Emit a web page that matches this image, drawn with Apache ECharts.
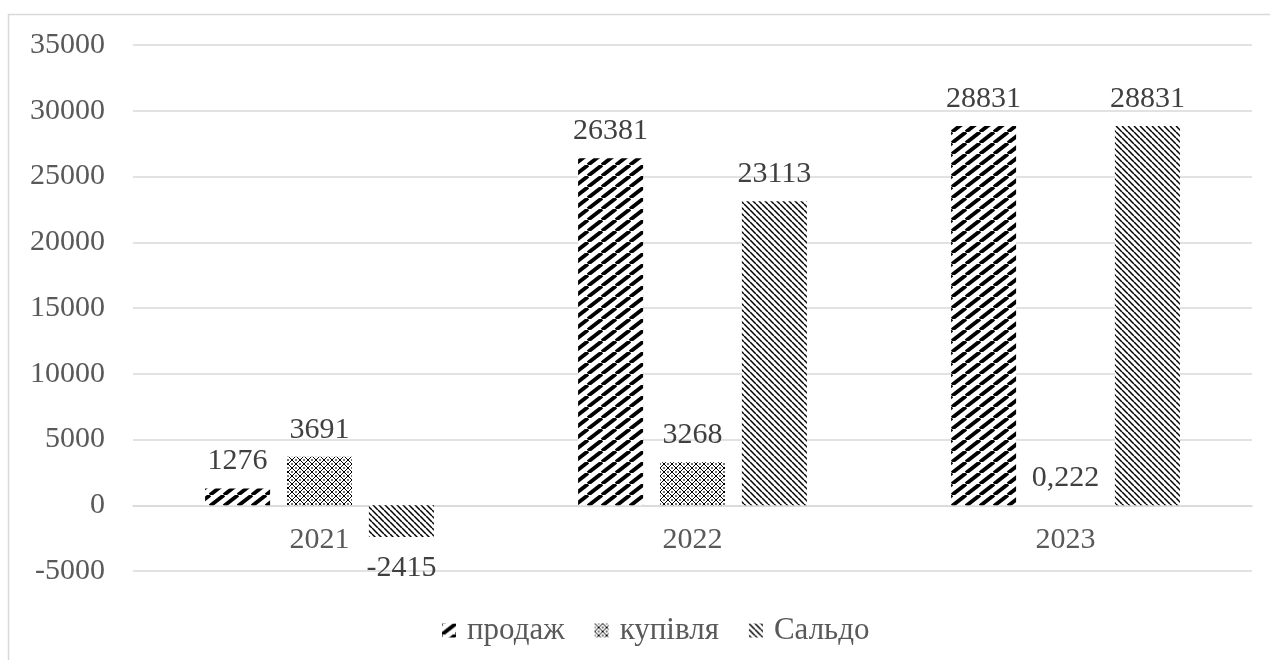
<!DOCTYPE html>
<html>
<head>
<meta charset="utf-8">
<script src="https://cdn.jsdelivr.net/npm/echarts@6/dist/echarts.min.js"></script>
<style>
  html, body { margin: 0; padding: 0; background: #fff; }
  #chart { width: 1270px; height: 660px; }
</style>
</head>
<body>
<div id="chart"></div>
<script>
// Years on the category axis
const years = ['2021', '2022', '2023'];
// Series values
const sales = [1276, 26381, 28831];       // продаж
const purchases = [3691, 3268, 0.222];    // купівля
const balance = [-2415, 23113, 28831];    // Сальдо
const seriesNames = ['продаж', 'купівля', 'Сальдо'];
// Value axis range
const yMin = -5000, yMax = 35000, yStep = 5000;

const FONT = '"Liberation Serif", "Times New Roman", serif';

const GRID_TOP = 45, GRID_BOTTOM = 89, CHART_H = 660;

// Hatch fills
function tile(w, h, draw) {
  const c = document.createElement('canvas');
  c.width = w; c.height = h;
  const ctx = c.getContext('2d');
  ctx.fillStyle = '#fff';
  ctx.fillRect(0, 0, w, h);
  draw(ctx, w, h);
  return { image: c, repeat: 'repeat' };
}

// wide upward diagonal stripes
const widePattern = tile(14, 11, (ctx, w, h) => {
  ctx.strokeStyle = '#000';
  ctx.lineWidth = 3.8;
  for (const k of [-w, 0, w]) {
    ctx.beginPath();
    ctx.moveTo(k, h);
    ctx.lineTo(k + w, 0);
    ctx.stroke();
  }
});

// small diamond mesh
const meshPattern = tile(8, 8, (ctx, w, h) => {
  ctx.fillStyle = '#000';
  for (let i = 0; i < 8; i++) {
    ctx.fillRect(i, i, 1, 1);
    ctx.fillRect(7 - i, i, 1, 1);
  }
  ctx.fillStyle = '#777';
  ctx.fillRect(3, 0, 2, 1);
  ctx.fillRect(3, 7, 2, 1);
  ctx.fillRect(0, 3, 1, 2);
  ctx.fillRect(7, 3, 1, 2);
});

// thin downward diagonal stripes
const thinPattern = tile(6, 6, (ctx, w, h) => {
  ctx.strokeStyle = '#000';
  ctx.lineWidth = 1.5;
  for (const k of [-w, 0, w]) {
    ctx.beginPath();
    ctx.moveTo(k, 0);
    ctx.lineTo(k + w, h);
    ctx.stroke();
  }
});

const patterns = [widePattern, meshPattern, thinPattern];

function fmt(v) {
  return String(v).replace('.', ',');
}

function makeSeries(name, values, fill) {
  return {
    name: name,
    type: 'bar',
    barWidth: 65,
    barGap: '26%',
    itemStyle: { color: fill },
    label: {
      show: true,
      color: '#404040',
      fontFamily: FONT,
      fontSize: 30,
      formatter: p => fmt(p.value)
    },
    data: values.map(v => ({
      value: v,
      label: v < 0 ? { position: 'bottom', distance: 16 } : { position: 'top', distance: 12 }
    }))
  };
}

// distance from the bottom of the plot to the zero line, so the year labels sit under zero
const plotH = CHART_H - GRID_TOP - GRID_BOTTOM;
const zeroOffset = plotH * (0 - yMin) / (yMax - yMin);

const chart = echarts.init(document.getElementById('chart'), null, { renderer: 'canvas' });
chart.setOption({
  animation: false,
  backgroundColor: '#fff',
  graphic: [{
    type: 'rect',
    shape: { x: 8.5, y: 14.5, width: 1400, height: 800 },
    style: { fill: 'none', stroke: '#d9d9d9', lineWidth: 1.5 },
    silent: true
  }],
  grid: { left: 133, right: 18, top: GRID_TOP, bottom: GRID_BOTTOM, containLabel: false },
  legend: {
    bottom: 9,
    left: 437,
    itemWidth: 14,
    itemHeight: 14,
    itemGap: 30,
    textStyle: { color: '#595959', fontFamily: FONT, fontSize: 31, padding: [0, 0, 0, 6] },
    data: seriesNames.map((n, i) => ({ name: n, icon: 'rect', itemStyle: { color: patterns[i] } }))
  },
  xAxis: {
    type: 'category',
    data: years,
    offset: -zeroOffset,
    axisLine: { show: true, onZero: false, lineStyle: { color: '#d9d9d9', width: 1.5 } },
    axisTick: { show: false },
    axisLabel: { color: '#595959', fontFamily: FONT, fontSize: 30, margin: 20 }
  },
  yAxis: {
    type: 'value',
    min: yMin,
    max: yMax,
    interval: yStep,
    axisLine: { show: false },
    axisTick: { show: false },
    splitLine: { lineStyle: { color: '#d9d9d9', width: 1.5 } },
    axisLabel: {
      color: '#595959', fontFamily: FONT, fontSize: 30, margin: 28,
      formatter: v => String(v)
    }
  },
  series: [
    makeSeries(seriesNames[0], sales, widePattern),
    makeSeries(seriesNames[1], purchases, meshPattern),
    makeSeries(seriesNames[2], balance, thinPattern)
  ]
});
</script>
</body>
</html>
